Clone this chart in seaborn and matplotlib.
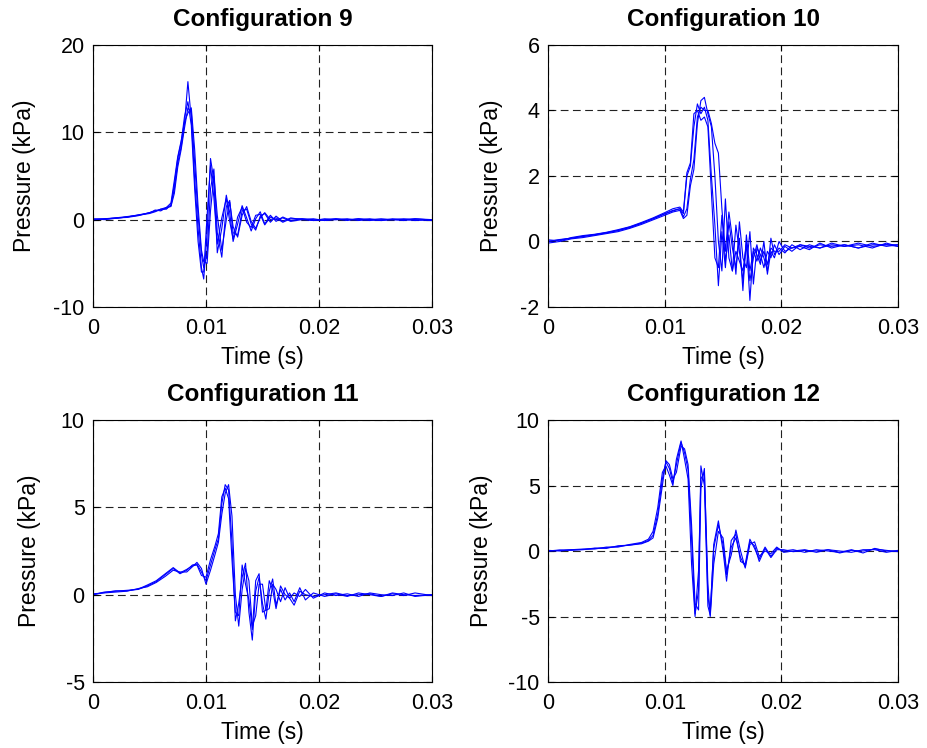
import numpy as np
import pandas as pd
import matplotlib
matplotlib.use("Agg")
import matplotlib.pyplot as plt
import seaborn as sns

sns.set_style("ticks")
plt.rcParams["font.family"] = ["Liberation Sans", "DejaVu Sans"]
plt.rcParams["axes.unicode_minus"] = False
plt.rcParams["text.color"] = "black"
plt.rcParams["axes.labelcolor"] = "black"
plt.rcParams["xtick.color"] = "black"
plt.rcParams["ytick.color"] = "black"

# ---- data (time in s, pressure in kPa) ----
t9 = [0, 0.001, 0.002, 0.003, 0.004, 0.005, 0.0055, 0.006, 0.0065, 0.0069,
      0.0072, 0.0075, 0.0078, 0.0081, 0.0084, 0.0087, 0.009, 0.0093, 0.0096, 0.0098,
      0.0101, 0.0104, 0.0107, 0.011, 0.0114, 0.0118, 0.0121, 0.0124, 0.0128, 0.0132,
      0.0136, 0.014, 0.0144, 0.0148, 0.0152, 0.0157, 0.0162, 0.0168, 0.0175, 0.0185,
      0.0195, 0.0205, 0.0215, 0.0225, 0.0235, 0.0245, 0.0255, 0.0265, 0.0275, 0.0285, 0.03]
p9a = [0.0, 0.1, 0.15, 0.3, 0.5, 0.8, 1.0, 1.1, 1.3, 1.6, 3.5, 6.5, 8.3, 11.0, 15.8, 11.5, 4.5,
       -1.0, -5.5, -6.8, -1.5, 7.0, 4.5, -3.8, -1.0, 2.8, 0.8, -2.5, -0.5, 1.6, 0.2, -1.3, 0.1,
       0.9, -0.5, 0.5, -0.2, 0.3, -0.1, 0.1, -0.1, 0.0, 0.1, -0.1, 0.1, 0.0, -0.1, 0.1, 0.0, -0.1, 0.0]
p9b = [0.05, 0.1, 0.2, 0.35, 0.5, 0.7, 0.9, 1.2, 1.4, 1.5, 3.0, 6.0, 8.0, 10.5, 12.8, 12.3, 6.5,
       0.5, -4.0, -5.5, -4.0, 3.5, 5.8, -1.5, -4.3, 1.5, 2.2, -1.5, -1.8, 1.0, 1.2, -0.5, -1.2,
       0.4, 0.7, -0.3, 0.4, -0.2, 0.2, 0.0, -0.1, 0.1, 0.0, 0.1, -0.1, 0.0, 0.1, 0.0, -0.1, 0.1, 0.0]
p9c = [0.0, 0.05, 0.2, 0.25, 0.45, 0.8, 1.0, 1.2, 1.2, 1.7, 4.0, 7.0, 8.8, 11.8, 13.5, 10.8, 3.5,
       -2.5, -6.0, -6.0, 0.5, 6.2, 2.5, -2.8, 0.2, 2.4, -0.2, -2.2, 0.3, 1.4, -0.3, -0.9, 0.5,
       0.6, -0.6, 0.3, 0.0, 0.2, -0.2, 0.0, 0.1, -0.1, 0.0, 0.0, 0.1, -0.1, 0.0, 0.0, 0.1, 0.0, -0.1]
p9d = [0.1, 0.0, 0.15, 0.3, 0.55, 0.75, 1.1, 1.0, 1.4, 1.9, 4.5, 7.2, 9.0, 11.2, 12.2, 12.8, 8.0,
       1.5, -3.5, -4.8, -5.0, 1.0, 5.0, 0.5, -3.5, 0.0, 2.0, -0.8, -2.0, 0.5, 1.5, -0.2, -1.0,
       0.2, 0.8, 0.0, 0.2, -0.3, 0.1, 0.1, 0.0, -0.1, 0.1, 0.0, 0.0, 0.1, -0.1, 0.0, 0.0, 0.1, -0.05]

t10 = [0, 0.001, 0.002, 0.003, 0.004, 0.005, 0.006, 0.007, 0.008, 0.009,
       0.01, 0.0107, 0.0113, 0.0116, 0.0119, 0.0122, 0.0125, 0.0128, 0.0131, 0.0134,
       0.0137, 0.014, 0.0143, 0.0146, 0.0149, 0.0152, 0.0155, 0.0158, 0.0161, 0.0164,
       0.0167, 0.017, 0.0173, 0.0176, 0.0179, 0.0182, 0.0185, 0.0188, 0.0191, 0.0194,
       0.0198, 0.0203, 0.0209, 0.0216, 0.0224, 0.0233, 0.0243, 0.0254, 0.0266, 0.0278, 0.029, 0.03]
p10a = [0.0, 0.05, 0.1, 0.15, 0.2, 0.26, 0.33, 0.42, 0.55, 0.7, 0.85, 0.95, 1.0, 0.85, 2.0, 2.3,
        3.5, 4.2, 3.9, 4.1, 3.7, 2.0, 0.5, -1.35, 0.3, -0.8, 0.6, -0.2, -0.8, 0.1, -1.5, 0.2,
        -0.9, -0.3, -0.6, -0.2, -0.5, -0.9, 0.1, -0.4, -0.2, -0.35, -0.1, -0.25, -0.1, -0.2,
        -0.05, -0.15, -0.1, -0.2, -0.05, -0.15]
p10b = [-0.05, 0.0, 0.08, 0.12, 0.18, 0.24, 0.3, 0.4, 0.52, 0.66, 0.8, 0.9, 0.95, 0.7, 0.8, 1.7,
        2.2, 3.6, 4.3, 4.4, 3.9, 3.5, 2.0, 0.0, -0.9, 1.3, -0.5, -0.9, 0.5, -0.3, -1.2, 0.0,
        -1.8, -0.2, -0.4, -0.7, 0.0, -1.0, -0.3, -0.5, 0.0, -0.3, -0.2, -0.15, -0.25, -0.05,
        -0.2, -0.1, -0.2, -0.05, -0.15, -0.1]
p10c = [0.05, 0.02, 0.12, 0.18, 0.22, 0.28, 0.36, 0.45, 0.58, 0.72, 0.88, 1.0, 1.05, 0.9, 2.1, 2.4,
        3.9, 4.0, 3.7, 3.8, 3.5, 1.5, -0.5, -0.8, 0.8, -0.6, 0.2, -0.9, -0.3, -0.6, -0.9, -0.1,
        -1.2, -0.5, -0.1, -0.6, -0.3, -0.7, -0.2, -0.3, -0.3, -0.1, -0.2, -0.1, -0.15, -0.2,
        -0.1, -0.15, -0.05, -0.15, -0.1, -0.1]
p10d = [0.0, 0.06, 0.1, 0.16, 0.21, 0.27, 0.34, 0.44, 0.56, 0.69, 0.84, 0.93, 1.0, 0.75, 1.0, 1.9,
        2.5, 3.8, 4.1, 4.0, 4.0, 3.6, 3.0, 2.7, 1.0, -0.3, 0.9, 0.1, -1.0, 0.6, -0.5, -0.8,
        0.3, -1.3, -0.2, -0.4, -0.8, -0.3, -0.5, -0.1, -0.4, -0.15, -0.3, -0.1, -0.2, -0.1,
        -0.15, -0.1, -0.2, -0.1, -0.1, -0.15]

t11 = [0, 0.001, 0.002, 0.003, 0.004, 0.0048, 0.0056, 0.0064, 0.0071, 0.0077,
       0.0083, 0.0088, 0.0092, 0.0096, 0.01, 0.0104, 0.0108, 0.0111, 0.0114, 0.0117,
       0.012, 0.0123, 0.0126, 0.0129, 0.0132, 0.0135, 0.0138, 0.0141, 0.0144, 0.0147,
       0.015, 0.0153, 0.0156, 0.0159, 0.0162, 0.0166, 0.017, 0.0174, 0.0178, 0.0183,
       0.0188, 0.0195, 0.0205, 0.0215, 0.0225, 0.0235, 0.0245, 0.0255, 0.0265, 0.0275, 0.0285, 0.03]
p11a = [0.0, 0.15, 0.2, 0.25, 0.3, 0.5, 0.75, 1.15, 1.5, 1.2, 1.4, 1.7, 1.75, 1.3, 0.8, 1.7, 2.6,
        3.2, 5.2, 6.3, 6.0, 3.0, -1.5, -0.5, 1.0, 1.8, -1.0, -2.6, 0.2, 1.0, -0.5, -1.4, 0.2,
        0.9, -0.6, 0.3, -0.3, 0.1, -0.4, 0.4, -0.3, 0.1, -0.1, 0.05, -0.1, 0.1, 0.0, -0.1,
        0.05, -0.05, 0.1, -0.05]
p11b = [0.05, 0.1, 0.15, 0.2, 0.35, 0.45, 0.7, 1.05, 1.4, 1.3, 1.3, 1.6, 1.85, 1.5, 0.6, 1.4, 2.3,
        3.0, 4.6, 5.8, 6.3, 4.5, 0.0, -1.8, 0.3, 1.5, 0.8, -1.8, -1.2, 0.6, 0.6, -0.9, -0.8,
        0.6, 0.3, -0.4, 0.4, -0.2, 0.1, -0.1, 0.3, -0.2, 0.1, -0.05, 0.05, -0.1, 0.1, 0.0,
        -0.05, 0.1, -0.1, 0.0]
p11c = [0.0, 0.12, 0.22, 0.22, 0.32, 0.55, 0.8, 1.2, 1.55, 1.25, 1.45, 1.65, 1.7, 1.1, 1.0, 2.0,
        2.8, 3.5, 5.6, 6.1, 5.5, 2.0, -1.0, -1.2, 1.7, 0.6, -0.3, -2.0, 0.8, 1.2, -1.0, -0.9,
        0.8, 0.3, -0.8, 0.5, 0.0, -0.2, -0.6, 0.2, 0.0, -0.1, 0.0, 0.1, -0.05, 0.0, 0.05,
        -0.1, 0.1, 0.0, -0.05, 0.0]

t12 = [0, 0.001, 0.002, 0.003, 0.004, 0.005, 0.006, 0.007, 0.008, 0.0086,
       0.009, 0.0094, 0.0098, 0.0101, 0.0104, 0.0107, 0.011, 0.0114, 0.0117, 0.012,
       0.0123, 0.0126, 0.0129, 0.0131, 0.0134, 0.0137, 0.0139, 0.0142, 0.0146, 0.015,
       0.0153, 0.0157, 0.0161, 0.0165, 0.0169, 0.0173, 0.0177, 0.0181, 0.0186, 0.0191,
       0.0196, 0.0202, 0.021, 0.022, 0.023, 0.024, 0.025, 0.026, 0.027, 0.028, 0.029, 0.03]
p12a = [0.0, 0.05, 0.1, 0.1, 0.2, 0.25, 0.35, 0.45, 0.6, 0.8, 1.2, 2.8, 5.5, 6.8, 6.3, 5.2, 6.6,
        8.3, 7.5, 6.2, 1.0, -4.8, -3.0, 6.5, 5.0, -4.2, -4.9, 0.5, 2.3, 0.0, -2.3, 0.8, 1.3,
        -0.8, -1.0, 0.9, 0.2, -0.6, 0.3, -0.4, 0.2, 0.0, 0.1, -0.1, 0.1, 0.0, -0.1, 0.1,
        -0.15, 0.2, 0.0, 0.0]
p12b = [0.05, 0.0, 0.1, 0.15, 0.15, 0.3, 0.3, 0.5, 0.65, 0.9, 1.5, 3.3, 6.0, 6.5, 5.8, 5.0, 7.0,
        8.4, 7.0, 5.5, -1.0, -5.0, -1.5, 5.5, 6.0, -2.5, -5.0, -1.0, 1.5, 1.0, -1.5, -0.3, 1.6,
        0.0, -1.3, 0.5, 0.7, -0.4, 0.0, -0.2, 0.3, -0.1, 0.0, 0.1, -0.1, 0.1, 0.0, -0.1, 0.1,
        0.1, -0.1, 0.05]
p12c = [0.0, 0.08, 0.05, 0.12, 0.22, 0.2, 0.4, 0.45, 0.55, 0.75, 1.0, 2.5, 5.0, 6.9, 6.6, 5.5, 6.0,
        8.0, 7.8, 6.6, 2.0, -4.0, -4.5, 4.8, 6.3, -3.5, -4.6, 0.2, 2.0, 0.5, -1.8, 0.3, 1.0,
        -0.5, -1.2, 0.7, 0.4, -0.8, 0.2, -0.5, 0.1, 0.1, -0.05, 0.05, 0.0, 0.1, -0.15, 0.05,
        0.0, 0.15, 0.05, -0.05]

titles = ["Configuration 9", "Configuration 10", "Configuration 11", "Configuration 12"]
yticks = [[-10, 0, 10, 20], [-2, 0, 2, 4, 6], [-5, 0, 5, 10], [-10, -5, 0, 5, 10]]
xticks = [0, 0.01, 0.02, 0.03]
xticklabels = ["0", "0.01", "0.02", "0.03"]

panels = [
    (t9, [p9a, p9b, p9c, p9d]),
    (t10, [p10a, p10b, p10c, p10d]),
    (t11, [p11a, p11b, p11c]),
    (t12, [p12a, p12b, p12c]),
]

fig = plt.figure(figsize=(9.27, 7.48), dpi=100)
boxes = [
    [0.1003, 0.5896, 0.3657, 0.3503],
    [0.5912, 0.5896, 0.3776, 0.3503],
    [0.1003, 0.0882, 0.3657, 0.3503],
    [0.5912, 0.0882, 0.3776, 0.3503],
]
# x position of the y label (axes fraction), as placed in the reference
ylab_x = [-0.168, -0.128, -0.152, -0.157]

for i, (t, runs) in enumerate(panels):
    ax = fig.add_axes(boxes[i])
    frames = [pd.DataFrame({"t": t, "p": r, "run": k}) for k, r in enumerate(runs)]
    df = pd.concat(frames, ignore_index=True)
    sns.lineplot(data=df, x="t", y="p", units="run", estimator=None,
                 color="#0000ff", linewidth=0.8, sort=False, ax=ax)
    ax.set_xlim(0, 0.03)
    ax.set_ylim(yticks[i][0], yticks[i][-1])
    ax.set_xticks(xticks)
    ax.set_xticklabels(xticklabels)
    ax.set_yticks(yticks[i])
    ax.grid(True, color="#222222", linestyle=(0, (7, 4)), linewidth=0.8)
    ax.tick_params(direction="in", top=True, right=True, length=4, labelsize=15.5)
    ax.tick_params(axis="x", pad=8)
    ax.tick_params(axis="y", pad=6)
    for s in ax.spines.values():
        s.set_linewidth(0.8)
        s.set_color("black")
    ax.set_xlabel("Time (s)", fontsize=16.5, labelpad=5)
    ax.set_ylabel("Pressure (kPa)", fontsize=16.5)
    ax.yaxis.set_label_coords(ylab_x[i], 0.5)
    ax.set_title(titles[i], fontsize=17.5, fontweight="bold", pad=14)

fig.savefig("out.png", dpi=100)
